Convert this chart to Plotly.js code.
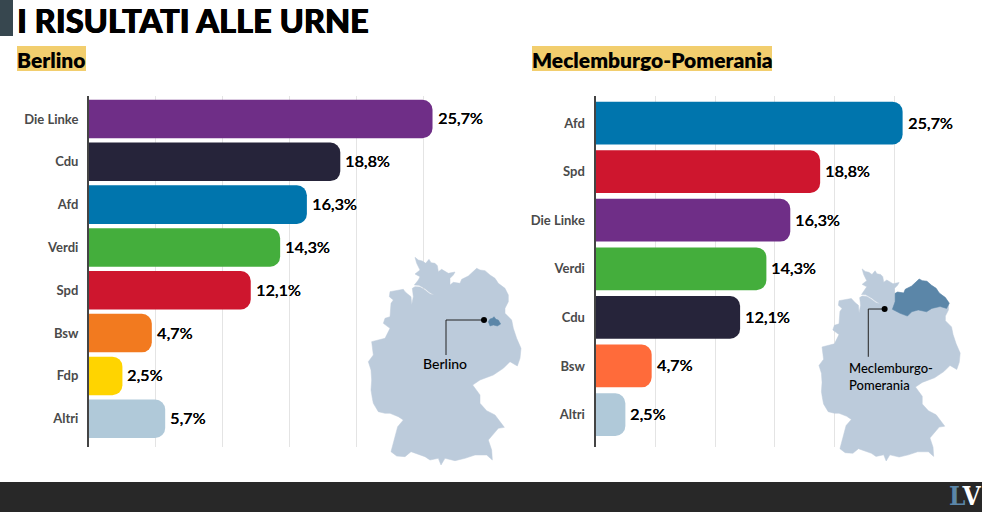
<!DOCTYPE html>
<html><head><meta charset="utf-8">
<script src="https://cdn.plot.ly/plotly-3.0.1.min.js"></script>
<style>html,body{margin:0;padding:0;background:#fff}#c{width:982px;height:512px}</style>
</head><body><div id="c"></div>
<script>
const berlinoCategories=['Die Linke','Cdu','Afd','Verdi','Spd','Bsw','Fdp','Altri'];
const berlinoValues=[25.7,18.8,16.3,14.3,12.1,4.7,2.5,5.7];
const berlinoColors=['#6F2E87','#26243A','#0075AD','#44AE3C','#CE162E','#F27A1F','#FFD400','#B0C9D9'];
const mvCategories=['Afd','Spd','Die Linke','Verdi','Cdu','Bsw','Altri'];
const mvValues=[25.7,18.8,16.3,14.3,12.1,4.7,2.5];
const mvColors=['#0075AD','#CE162E','#6F2E87','#44AE3C','#26243A','#FF6B3A','#B0C9D9'];
const germanyOutline=[[195,52],[205,60],[217,63],[227,70],[237,58],[243,68],[255,70],[262,77],[265,95],[275,88],[295,100],[315,96],[310,105],[300,115],[300,135],[310,127],[330,130],[335,118],[355,108],[373,90],[380,85],[390,90],[405,92],[420,105],[435,115],[445,130],[465,145],[475,165],[475,185],[465,205],[465,220],[485,240],[490,265],[500,295],[513,325],[510,355],[502,378],[480,365],[460,385],[430,405],[390,420],[368,435],[380,450],[390,465],[390,490],[410,512],[435,525],[450,545],[463,562],[445,565],[415,600],[425,630],[427,660],[410,645],[375,645],[345,655],[315,662],[285,655],[273,675],[265,655],[240,660],[225,650],[200,640],[183,635],[165,650],[140,648],[123,635],[130,610],[143,560],[160,540],[145,530],[120,520],[105,520],[85,515],[70,490],[67,475],[63,450],[65,420],[63,390],[55,365],[70,345],[65,305],[105,295],[120,265],[100,250],[105,235],[120,230],[123,190],[130,180],[118,170],[120,155],[160,148],[165,155],[173,162],[183,170],[185,195],[190,170],[187,145],[195,140],[210,141],[225,150],[240,162],[253,165],[240,158],[225,146],[207,136],[193,135],[205,120],[210,110],[195,102],[210,90],[200,70],[195,52]];
const berlinOutline=[[415,245],[420,237],[427,235],[432,230],[438,238],[445,240],[452,252],[442,258],[430,255],[420,258],[415,245]];
const mvOutline=[[293,183],[302,158],[302,131],[310,127],[330,130],[335,118],[355,108],[373,90],[380,85],[390,90],[405,92],[420,105],[435,115],[445,130],[465,145],[478,163],[469,180],[448,174],[421,180],[404,191],[377,185],[356,191],[342,205],[318,196],[293,183]];

const F='Lato, sans-serif';
const W=982,H=512;
const dx=(a,b)=>[a/W,b/W], dy=(t,b)=>[(H-b)/H,(H-t)/H];
const fmt=v=>v.toFixed(1).replace('.',',')+'%';
const bar=(cats,vals,cols,xa,ya,gap)=>({type:'bar',orientation:'h',x:vals,y:cats,xaxis:xa,yaxis:ya,
  marker:{color:cols,cornerradius:10,line:{width:0}},width:gap,hoverinfo:'skip'});
const shape=(pts,xa,ya,col)=>({type:'scatter',mode:'lines',x:pts.map(p=>p[0]),y:pts.map(p=>p[1]),xaxis:xa,yaxis:ya,
  fill:'toself',fillcolor:col,line:{color:col,width:0.5},hoverinfo:'skip'});
const cat=(cats,range,domain)=>({type:'category',categoryorder:'array',categoryarray:cats,range,domain,
  showline:true,linecolor:'#444',linewidth:2,ticks:'',showgrid:false,zeroline:false,ticklabelstandoff:6,
  tickfont:{family:F,size:13,color:'#4a4a4a',weight:700},fixedrange:true});
const val=(domain,anchor)=>({range:[0,30],domain,anchor,tickvals:[5,10,15,20,25,30],showticklabels:false,ticks:'',
  showgrid:true,gridcolor:'#e4e4e4',gridwidth:1,zeroline:false,showline:false,fixedrange:true});
const hidden=(range,domain,anchor)=>({range,domain,anchor,visible:false,fixedrange:true});
const valueLabels=(cats,vals,xa,ya,yshift)=>vals.map((v,i)=>({xref:xa,yref:ya,x:v,y:cats[i],text:fmt(v),showarrow:false,
  xanchor:'left',yanchor:'middle',xshift:3,yshift,font:{family:F,size:16.2,color:'#000',weight:500,shadow:'0.25px 0 0 #000'}}));

const traces=[
 bar(berlinoCategories,berlinoValues,berlinoColors,'x','y',0.9),
 bar(mvCategories,mvValues,mvColors,'x2','y2',0.88),
 shape(germanyOutline,'x3','y3','#BCCBDB'),
 shape(berlinOutline,'x3','y3','#5B86A8'),
 shape(germanyOutline,'x4','y4','#BCCBDB'),
 shape(mvOutline,'x4','y4','#5B86A8'),
 {type:'scatter',mode:'lines',x:[402,288,288],y:[240,240,345],xaxis:'x3',yaxis:'y3',line:{color:'#222',width:1},hoverinfo:'skip'},
 {type:'scatter',mode:'markers',x:[402],y:[240],xaxis:'x3',yaxis:'y3',marker:{color:'#000',size:6},hoverinfo:'skip'},
 {type:'scatter',mode:'lines',x:[268,215,215],y:[182,182,337],xaxis:'x4',yaxis:'y4',line:{color:'#222',width:1},hoverinfo:'skip'},
 {type:'scatter',mode:'markers',x:[268],y:[182],xaxis:'x4',yaxis:'y4',marker:{color:'#000',size:6},hoverinfo:'skip'}
];
const px=(x,y,text,size,color,weight,xanchor,family)=>({xref:'paper',yref:'paper',x:x/W,y:1-y/H,text,showarrow:false,
  xanchor:xanchor||'left',yanchor:'middle',align:xanchor==='center'?'center':'left',font:{family:family||F,size,color,weight:weight||400}});
const title=px(15,20,'I RISULTATI ALLE URNE',32.6,'#000',900);
title.font.shadow='0.5px 0 0 #000, -0.3px 0 0 #000';
const layout={width:W,height:H,margin:{l:0,r:0,t:0,b:0},paper_bgcolor:'#fff',plot_bgcolor:'rgba(0,0,0,0)',showlegend:false,
 xaxis:val(dx(89,490),'y'),
 yaxis:cat(berlinoCategories,[7.66,-0.537],dy(96,447)),
 xaxis2:val(dx(595.5,954),'y2'),
 yaxis2:Object.assign(cat(mvCategories,[6.667,-0.556],dy(96,447)),{anchor:'x2'}),
 xaxis3:hidden([0,540],dx(350,530),'y3'),
 yaxis3:hidden([720,0],dy(240,480),'x3'),
 xaxis4:hidden([0,540],dx(802,968.5),'y4'),
 yaxis4:hidden([720,0],dy(252.9,474.9),'x4'),
 shapes:[
  {type:'rect',xref:'paper',yref:'paper',x0:0,x1:13/W,y0:1-36/H,y1:1,fillcolor:'#37474F',line:{width:0}},
  {type:'rect',xref:'paper',yref:'paper',x0:0,x1:1,y0:0,y1:30/H,fillcolor:'#282828',line:{width:0}},
  {type:'rect',xref:'paper',yref:'paper',x0:17/W,x1:86/W,y0:1-71/H,y1:1-46/H,fillcolor:'#F2CE6E',line:{width:0},layer:'below'},
  {type:'rect',xref:'paper',yref:'paper',x0:532/W,x1:772/W,y0:1-71/H,y1:1-46/H,fillcolor:'#F2CE6E',line:{width:0},layer:'below'}
 ],
 annotations:[
  title,
  px(15,59.5,'Berlino',21,'#000',800),
  px(530,59.5,'Meclemburgo-Pomerania',21,'#000',800),
  px(445,363,'Berlino',14,'#000',500,'center'),
  px(847,376,'Meclemburgo-<br>Pomerania',13,'#000',500),
  Object.assign(px(983,496,'<span style="color:#5B86A8">L</span><span style="color:#fff">V</span>',26,'#fff',700,'right','DejaVu Serif Condensed, DejaVu Serif'),{xanchor:'right'}),
  ...valueLabels(berlinoCategories,berlinoValues,'x','y',1),
  ...valueLabels(mvCategories,mvValues,'x2','y2',1)
 ]};
Plotly.newPlot('c',traces,layout,{staticPlot:true,displayModeBar:false});
</script></body></html>
